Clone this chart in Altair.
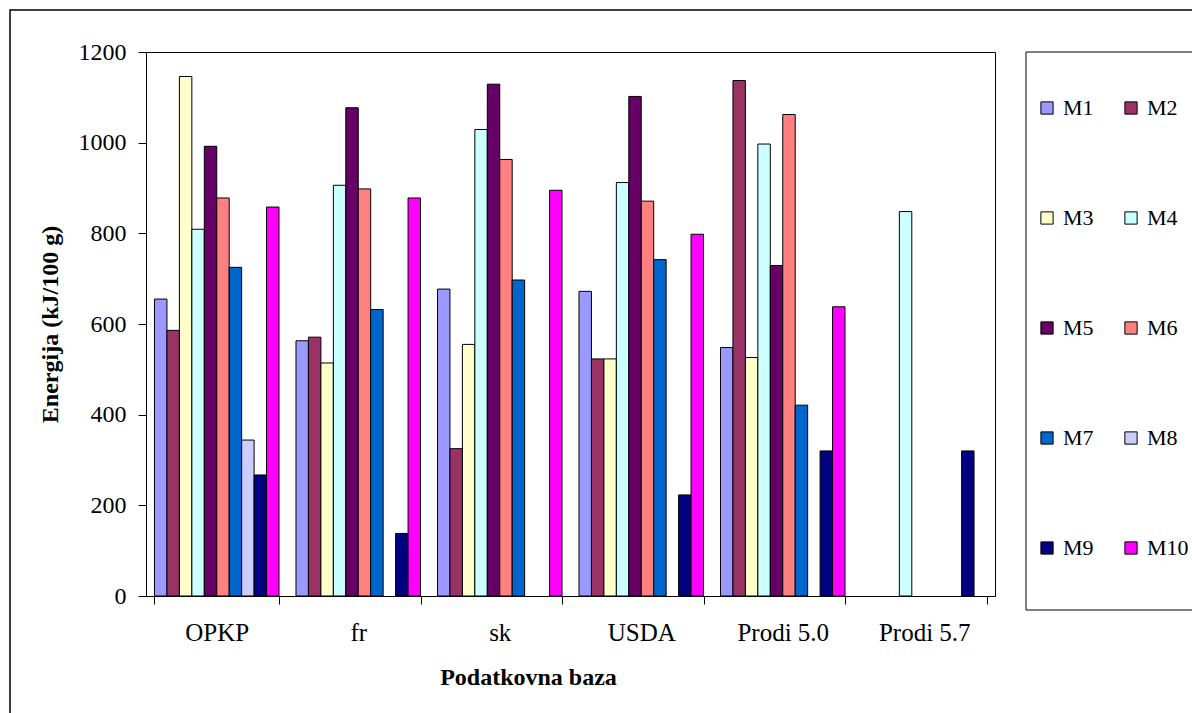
import altair as alt
import pandas as pd

categories = ["OPKP", "fr", "sk", "USDA", "Prodi 5.0", "Prodi 5.7"]
series_names = ["M1", "M2", "M3", "M4", "M5", "M6", "M7", "M8", "M9", "M10"]

M1 = [655, 563, 677, 672, 548, None]
M2 = [586, 571, 325, 523, 1137, None]
M3 = [1146, 514, 555, 523, 526, None]
M4 = [809, 906, 1029, 912, 997, 848]
M5 = [992, 1077, 1129, 1102, 729, None]
M6 = [878, 898, 963, 871, 1062, None]
M7 = [725, 632, 697, 742, 421, None]
M8 = [344, None, None, None, None, None]
M9 = [267, 138, None, 223, 320, 320]
M10 = [858, 878, 895, 798, 638, None]

colors = ["#9999FF", "#993366", "#FFFFCC", "#CCFFFF", "#660066",
          "#FF8080", "#0066CC", "#CCCCFF", "#000080", "#FF00FF"]

y_ticks = [0, 200, 400, 600, 800, 1000, 1200]

series_values = [M1, M2, M3, M4, M5, M6, M7, M8, M9, M10]
rows = []
for name, vals in zip(series_names, series_values):
    for cat, v in zip(categories, vals):
        if v is not None:
            rows.append({"Podatkovna baza": cat, "Serija": name, "Energija": v})
df = pd.DataFrame(rows)

# legend fills column by column: order the colour domain so it reads row by row
legend_order = series_names[0::2] + series_names[1::2]
color_of = dict(zip(series_names, colors))
legend_colors = [color_of[s] for s in legend_order]

FONT = "'Liberation Serif', 'Times New Roman', serif"

bars = alt.Chart(df).mark_bar(stroke="black", strokeWidth=1).encode(
    x=alt.X(
        "Podatkovna baza:N",
        sort=categories,
        scale=alt.Scale(domain=categories, paddingInner=0.12, paddingOuter=0.06),
        axis=alt.Axis(
            title="Podatkovna baza",
            labelAngle=0,
            tickBand="extent",
            tickSize=8,
            labelPadding=16,
            labelFont=FONT,
            labelFontSize=25,
            titleFont=FONT,
            titleFontSize=24,
            titleFontWeight="bold",
            titleX=382,
            titleY=81,
            titleAlign="center",
            titleBaseline="middle",
        ),
    ),
    xOffset=alt.XOffset(
        "Serija:N",
        sort=series_names,
        scale=alt.Scale(domain=series_names, paddingInner=0, paddingOuter=0),
    ),
    y=alt.Y(
        "Energija:Q",
        scale=alt.Scale(domain=[0, 1200], nice=False),
        axis=alt.Axis(
            values=y_ticks,
            format="d",
            grid=False,
            tickSize=8,
            labelPadding=12,
            labelFont=FONT,
            labelFontSize=24,
            title="Energija (kJ/100 g)",
            titleFont=FONT,
            titleFontSize=24,
            titleFontWeight="bold",
            titleX=-96,
            titleY=272,
            titleAngle=-90,
            titleAlign="center",
            titleBaseline="middle",
        ),
    ),
    color=alt.Color(
        "Serija:N",
        scale=alt.Scale(domain=legend_order, range=legend_colors),
        legend=alt.Legend(
            title=None,
            orient="none",
            legendX=890,
            legendY=45,
            columns=2,
            columnPadding=26,
            rowPadding=88,
            symbolType="square",
            symbolSize=150,
            symbolStrokeColor="black",
            symbolStrokeWidth=1,
            symbolOpacity=1,
            labelFont=FONT,
            labelFontSize=22,
            labelOffset=5,
            labelColor="black",
            padding=0,
        ),
    ),
)

frame_df = pd.DataFrame({"k": [0]})
outer_frame = alt.Chart(frame_df).mark_rect(
    fill="transparent", stroke="black", strokeWidth=1.5
).encode(x=alt.value(-136), x2=alt.value(1100), y=alt.value(-42), y2=alt.value(720))

legend_frame = alt.Chart(frame_df).mark_rect(
    fill="transparent", stroke="black", strokeWidth=1
).encode(x=alt.value(880), x2=alt.value(1100), y=alt.value(0), y2=alt.value(558))

chart = alt.layer(outer_frame, legend_frame, bars).properties(
    width=849,
    height=544,
    autosize=alt.AutoSizeParams(type="none"),
    padding={"left": 146, "top": 52, "right": 197, "bottom": 117},
    background="white",
).configure_view(
    stroke="black", strokeWidth=1
).configure_axis(
    domainColor="black",
    tickColor="black",
    labelColor="black",
    titleColor="black",
    labelFont=FONT,
    titleFont=FONT,
    domainWidth=1,
    tickWidth=1,
).configure_legend(
    labelFont=FONT
)

chart.save("out.html", embed_options={"renderer": "svg", "actions": False})
